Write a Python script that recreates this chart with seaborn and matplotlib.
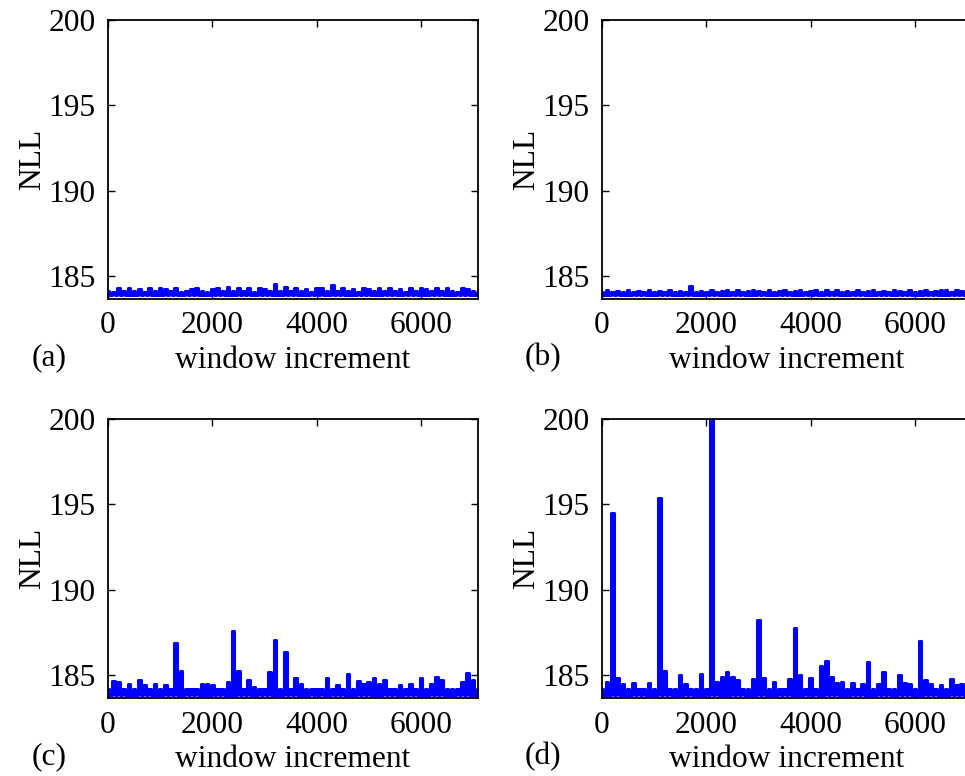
import numpy as np
import matplotlib
matplotlib.use("Agg")
import matplotlib.pyplot as plt
import seaborn as sns

# NLL per window increment, sampled every 50 increments (0 .. 7100)
STEP = 50

nll_a = [
    184.1, 183.88, 184.08, 183.87, 184.3, 183.9, 184.1, 183.88, 184.3, 183.87,
    184.1, 183.9, 184.25, 183.87, 184.08, 183.88, 184.3, 183.87, 184.1, 183.9,
    184.3, 183.88, 184.25, 183.87, 184.1, 183.9, 184.3, 183.88, 184.08, 183.87,
    184.1, 183.9, 184.25, 183.88, 184.3, 183.87, 184.1, 183.9, 184.08, 183.88,
    184.25, 183.87, 184.3, 183.9, 184.1, 183.88, 184.35, 183.87, 184.1, 183.9,
    184.3, 183.88, 184.1, 183.87, 184.3, 183.9, 184.08, 183.88, 184.3, 183.87,
    184.25, 183.9, 184.1, 183.88, 184.5, 183.87, 184.1, 183.9, 184.35, 183.88,
    184.1, 183.87, 184.3, 183.9, 184.1, 183.88, 184.25, 183.87, 184.08, 183.9,
    184.3, 183.88, 184.3, 183.87, 184.1, 183.9, 184.47, 183.88, 184.1, 183.87,
    184.3, 183.9, 184.1, 183.88, 184.25, 183.87, 184.08, 183.9, 184.3, 183.88,
    184.25, 183.87, 184.1, 183.9, 184.3, 183.88, 184.1, 183.87, 184.3, 183.9,
    184.1, 183.88, 184.25, 183.87, 184.08, 183.9, 184.3, 183.88, 184.1, 183.87,
    184.3, 183.9, 184.25, 183.88, 184.1, 183.87, 184.3, 183.9, 184.1, 183.88,
    184.3, 183.87, 184.1, 183.9, 184.08, 183.88, 184.3, 183.87, 184.25, 183.9,
    184.1, 183.88, 184.08,
]

nll_b = [
    184.05, 183.88, 184.15, 183.87, 184.05, 183.9, 184.1, 183.88, 184.05, 183.87,
    184.15, 183.9, 184.05, 183.87, 184.1, 183.88, 184.05, 183.87, 184.15, 183.9,
    184.05, 183.88, 184.1, 183.87, 184.05, 183.9, 184.15, 183.88, 184.05, 183.87,
    184.1, 183.9, 184.05, 183.88, 184.41, 183.87, 184.05, 183.9, 184.1, 183.88,
    184.05, 183.87, 184.15, 183.9, 184.05, 183.88, 184.1, 183.87, 184.15, 183.9,
    184.05, 183.88, 184.15, 183.87, 184.05, 183.9, 184.1, 183.88, 184.15, 183.87,
    184.1, 183.9, 184.05, 183.88, 184.15, 183.87, 184.05, 183.9, 184.1, 183.88,
    184.15, 183.87, 184.05, 183.9, 184.1, 183.88, 184.15, 183.87, 184.05, 183.9,
    184.1, 183.88, 184.15, 183.87, 184.05, 183.9, 184.2, 183.88, 184.05, 183.87,
    184.15, 183.9, 184.05, 183.88, 184.1, 183.87, 184.05, 183.9, 184.15, 183.88,
    184.05, 183.87, 184.1, 183.9, 184.15, 183.88, 184.05, 183.87, 184.1, 183.9,
    184.05, 183.88, 184.2, 183.87, 184.1, 183.9, 184.05, 183.88, 184.15, 183.87,
    184.05, 183.9, 184.1, 183.88, 184.15, 183.87, 184.05, 183.9, 184.1, 183.88,
    184.15, 183.87, 184.2, 183.9, 184.05, 183.88, 184.15, 183.87, 184.1, 183.9,
    184.05, 183.88, 184.1,
]

nll_c = [
    184.2, 183.83, 184.62, 183.82, 184.6, 183.84, 184.2, 183.83, 184.5, 183.82,
    184.15, 183.84, 184.7, 183.83, 184.4, 183.82, 184.2, 183.84, 184.5, 183.83,
    184.2, 183.82, 184.4, 183.84, 184.15, 183.83, 186.9, 183.82, 185.26, 183.84,
    184.2, 183.83, 184.15, 183.82, 184.2, 183.84, 184.48, 183.83, 184.45, 183.82,
    184.4, 183.84, 184.2, 183.83, 184.15, 183.82, 184.6, 183.84, 187.55, 183.83,
    185.26, 183.82, 184.2, 183.84, 184.7, 183.83, 184.3, 183.82, 184.2, 183.84,
    184.15, 183.83, 185.2, 183.82, 187.06, 183.84, 184.2, 183.83, 186.37, 183.82,
    184.2, 183.84, 184.8, 183.83, 184.5, 183.82, 184.2, 183.84, 184.15, 183.83,
    184.2, 183.82, 184.15, 183.84, 184.85, 183.83, 184.2, 183.82, 184.4, 183.84,
    184.2, 183.83, 185.06, 183.82, 184.2, 183.84, 184.66, 183.83, 184.5, 183.82,
    184.6, 183.84, 184.85, 183.83, 184.45, 183.82, 184.7, 183.84, 184.2, 183.83,
    184.15, 183.82, 184.4, 183.84, 184.2, 183.83, 184.48, 183.82, 184.2, 183.84,
    184.83, 183.83, 184.15, 183.82, 184.5, 183.84, 184.9, 183.83, 184.7, 183.82,
    184.2, 183.84, 184.15, 183.83, 184.2, 183.82, 184.6, 183.84, 185.1, 183.83,
    184.7, 183.82, 184.2,
]

nll_d = [
    184.2, 183.83, 184.6, 183.82, 194.5, 183.84, 184.8, 183.83, 184.45, 183.82,
    184.2, 183.84, 184.55, 183.83, 184.15, 183.82, 184.2, 183.84, 184.55, 183.83,
    184.2, 183.82, 195.4, 183.84, 185.25, 183.83, 184.2, 183.82, 184.15, 183.84,
    185.0, 183.83, 184.45, 183.82, 184.2, 183.84, 184.15, 183.83, 185.06, 183.82,
    184.2, 183.84, 200.5, 183.83, 184.6, 183.82, 184.9, 183.84, 185.2, 183.83,
    184.9, 183.82, 184.7, 183.84, 184.2, 183.83, 184.15, 183.82, 184.75, 183.84,
    188.2, 183.83, 184.85, 183.82, 184.2, 183.84, 184.6, 183.83, 184.2, 183.82,
    184.15, 183.84, 184.75, 183.83, 187.75, 183.82, 185.0, 183.84, 184.2, 183.83,
    184.8, 183.82, 184.2, 183.84, 185.55, 183.83, 185.8, 183.82, 184.9, 183.84,
    184.55, 183.83, 184.6, 183.82, 184.2, 183.84, 184.55, 183.83, 184.15, 183.82,
    184.5, 183.84, 185.75, 183.83, 184.2, 183.82, 184.5, 183.84, 185.15, 183.83,
    184.2, 183.82, 184.15, 183.84, 185.0, 183.83, 184.55, 183.82, 184.5, 183.84,
    184.2, 183.83, 187.0, 183.82, 184.7, 183.84, 184.45, 183.83, 184.2, 183.82,
    184.4, 183.84, 184.2, 183.83, 184.75, 183.82, 184.4, 183.84, 184.45, 183.83,
    184.2, 183.82, 184.15,
]

panels = [("(a)", nll_a), ("(b)", nll_b), ("(c)", nll_c), ("(d)", nll_d)]

x_ticks = [0, 2000, 4000, 6000]
y_ticks = [185, 190, 195, 200]

sns.set_style("ticks")
plt.rcParams["font.family"] = ["Liberation Serif", "DejaVu Serif"]
plt.rcParams["font.size"] = 22.7
plt.rcParams["text.color"] = "black"
plt.rcParams["axes.labelcolor"] = "black"

fig = plt.figure(figsize=(9.65, 7.76), dpi=100)

# axes boxes in figure fractions (left, bottom, width, height)
W, H = 0.3834, 0.3595
boxes = [
    (0.1119, 0.6147, W, H),
    (0.6238, 0.6147, W, H),
    (0.1119, 0.1005, W, H),
    (0.6238, 0.1005, W, H),
]

for (tag, vals), box in zip(panels, boxes):
    ax = fig.add_axes(box)
    x = np.arange(len(vals)) * STEP
    sns.lineplot(x=x, y=vals, ax=ax, color="#0000ff", linewidth=2.2,
                 drawstyle="steps-mid")
    ax.set_xlim(0, 7095)
    ax.set_ylim(183.65, 200)
    ax.set_xticks(x_ticks)
    ax.set_yticks(y_ticks)
    ax.tick_params(direction="in", length=5, width=1, top=True, right=True,
                   labelsize=22.7, pad=9, colors="black")
    for sp in ax.spines.values():
        sp.set_visible(True)
        sp.set_linewidth(1.3)
        sp.set_color("black")
    ax.set_xlabel("window increment", fontsize=22.7, labelpad=4)
    ax.set_ylabel("NLL", fontsize=22.7, labelpad=1)
    ax.text(-0.16, -0.21, tag, transform=ax.transAxes, fontsize=22.7,
            ha="center", va="center")

fig.savefig("out.png", dpi=100)
